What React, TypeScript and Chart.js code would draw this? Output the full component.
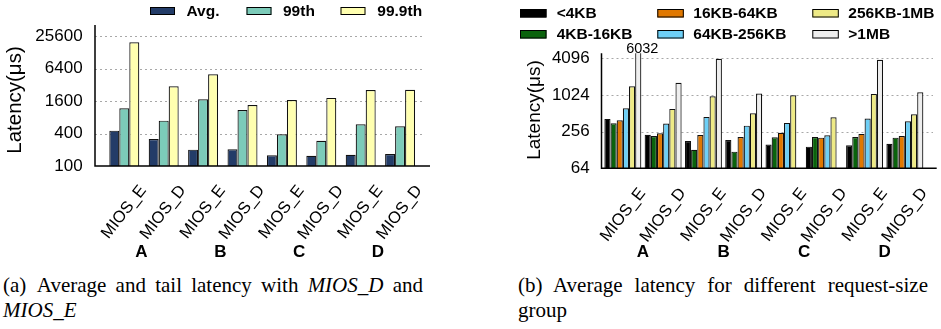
import React, { useEffect, useRef } from "react";
import { Chart, registerables } from "chart.js";
Chart.register(...registerables);

// ---------- data ----------
const categories = ["MIOS_E", "MIOS_D", "MIOS_E", "MIOS_D", "MIOS_E", "MIOS_D", "MIOS_E", "MIOS_D"];
const workloads = ["A", "B", "C", "D"];

const leftSeries = ["Avg.", "99th", "99.9th"];
const avgLatency = [453, 318, 201, 205, 158, 155, 162, 167];
const p99Latency = [1180, 695, 1730, 1097, 388, 295, 595, 546];
const p999Latency = [19800, 3020, 5050, 1360, 1680, 1840, 2580, 2600];
const leftTicks = [100, 400, 1600, 6400, 25600];

const sizeGroups = ["<4KB", "4KB-16KB", "16KB-64KB", "64KB-256KB", "256KB-1MB", ">1MB"];
const lt4KB = [414, 228, 180, 187, 157, 145, 153, 162];
const kb4to16 = [352, 217, 129, 120, 207, 209, 209, 204];
const kb16to64 = [394, 241, 226, 209, 246, 204, 235, 217];
const kb64to256 = [621, 347, 447, 321, 356, 223, 419, 380];
const kb256to1M = [1428, 605, 978, 514, 1016, 442, 1067, 495];
const gt1MB: (number | null)[] = [6032, 1620, 4015, 1080, null, null, 3870, 1138];
const rightTicks = [64, 256, 1024, 4096];

const SANS = "'Liberation Sans', Arial, sans-serif";

type Spec = {
  width: number;
  height: number;
  datasets: { label: string; data: (number | null)[]; color: string }[];
  yMin: number;
  yMax: number;
  yTicks: number[];
  area: { left: number; right: number; top: number; bottom: number };
  axisX: number;
  axisEnd: number;
  gridEnd: number;
  catPct: number;
  tickFont: number;
  tickPad: number;
  title: { x: number; y: number; size: number };
  legend: { boxX: number; boxY: number; boxW: number; boxH: number; textX: number; textY: number }[];
  legendFont: number;
  xLabel: { dx: number; dy: number; angle: number; size: number };
  groupY: number;
  groupDx: number;
  groupSize: number;
  annotate?: { dataset: number; index: number; dx: number; y: number; size: number };
};

function makeChart(canvas: HTMLCanvasElement, s: Spec) {
  const overlay = {
    id: "overlay",
    beforeDatasetsDraw(chart: any) {
      const ctx = chart.ctx;
      const y = chart.scales.y;
      ctx.save();
      ctx.strokeStyle = "#a8a8a8";
      ctx.lineWidth = 1;
      ctx.setLineDash([2, 3]);
      s.yTicks.forEach((v) => {
        if (v === s.yMin) return;
        const py = Math.round(y.getPixelForValue(v)) + 0.5;
        ctx.beginPath();
        ctx.moveTo(s.axisX, py);
        ctx.lineTo(s.gridEnd, py);
        ctx.stroke();
      });
      ctx.restore();
    },
    afterDatasetsDraw(chart: any) {
      const ctx = chart.ctx;
      const xs = chart.scales.x;
      const bottom = chart.chartArea.bottom;
      ctx.save();
      // axes
      ctx.strokeStyle = "#000";
      ctx.lineWidth = 1.5;
      ctx.setLineDash([]);
      ctx.beginPath();
      ctx.moveTo(s.axisX, s.area.top);
      ctx.lineTo(s.axisX, bottom);
      ctx.lineTo(s.axisEnd, bottom);
      ctx.stroke();
      ctx.fillStyle = "#000";
      // x labels
      ctx.font = `${s.xLabel.size}px ${SANS}`;
      categories.forEach((lab, i) => {
        const px = xs.getPixelForValue(i);
        ctx.save();
        ctx.translate(px + s.xLabel.dx, bottom + s.xLabel.dy);
        ctx.rotate((-s.xLabel.angle * Math.PI) / 180);
        ctx.textAlign = "right";
        ctx.textBaseline = "middle";
        ctx.fillText(lab, 0, 0);
        ctx.restore();
      });
      // group letters
      ctx.font = `bold ${s.groupSize}px ${SANS}`;
      ctx.textAlign = "center";
      ctx.textBaseline = "middle";
      workloads.forEach((w, g) => {
        const px = (xs.getPixelForValue(2 * g) + xs.getPixelForValue(2 * g + 1)) / 2 + s.groupDx;
        ctx.fillText(w, px, s.groupY);
      });
      // y title
      ctx.save();
      ctx.translate(s.title.x, s.title.y);
      ctx.rotate(-Math.PI / 2);
      ctx.font = `${s.title.size}px ${SANS}`;
      ctx.fillText("Latency(\u03bcs)", 0, 0);
      ctx.restore();
      // legend
      ctx.font = `bold ${s.legendFont}px ${SANS}`;
      ctx.textAlign = "left";
      s.datasets.forEach((d, i) => {
        const L = s.legend[i];
        ctx.fillStyle = d.color;
        ctx.fillRect(L.boxX, L.boxY, L.boxW, L.boxH);
        ctx.strokeStyle = "#000";
        ctx.lineWidth = 1;
        ctx.strokeRect(L.boxX + 0.5, L.boxY + 0.5, L.boxW - 1, L.boxH - 1);
        ctx.fillStyle = "#000";
        ctx.fillText(d.label, L.textX, L.textY);
      });
      // annotation for clipped bar
      if (s.annotate) {
        const a = s.annotate;
        const meta = chart.getDatasetMeta(a.dataset);
        const bar = meta.data[a.index];
        const val = s.datasets[a.dataset].data[a.index];
        ctx.font = `${a.size}px ${SANS}`;
        ctx.textAlign = "center";
        ctx.fillText(String(val), bar.x + a.dx, a.y);
      }
      ctx.restore();
    },
  };

  return new Chart(canvas, {
    type: "bar",
    data: {
      labels: categories,
      datasets: s.datasets.map((d) => ({
        label: d.label,
        data: d.data,
        backgroundColor: d.color,
        borderColor: "#111",
        borderWidth: 1.2,
        categoryPercentage: s.catPct,
        barPercentage: 1,
      })),
    },
    options: {
      responsive: false,
      animation: false,
      devicePixelRatio: 1,
      layout: { padding: { left: 0, top: s.area.top, right: s.width - s.area.right, bottom: 0 } },
      plugins: { legend: { display: false }, tooltip: { enabled: false } },
      scales: {
        x: {
          type: "category",
          offset: true,
          ticks: { display: false },
          grid: { display: false },
          border: { display: false },
          afterFit: (sc: any) => {
            sc.height = s.height - s.area.bottom;
          },
        },
        y: {
          type: "logarithmic",
          min: s.yMin,
          max: s.yMax,
          bounds: "data",
          afterBuildTicks: (sc: any) => {
            sc.ticks = s.yTicks.map((v) => ({ value: v }));
          },
          ticks: {
            callback: (v: any) => String(v),
            font: { family: SANS, size: s.tickFont },
            color: "#000",
            padding: s.tickPad,
          },
          grid: { display: false },
          border: { display: false },
          afterFit: (sc: any) => {
            sc.width = s.area.left;
          },
        },
      },
    },
    plugins: [overlay],
  } as any);
}

const leftColors = ["#233c68", "#7ccbb9", "#ffffb0"];
const rightColors = ["#000000", "#0a630c", "#e07800", "#6dcff6", "#eeea86", "#eeeeee"];

const leftSpec: Spec = {
  width: 470,
  height: 265,
  datasets: [avgLatency, p99Latency, p999Latency].map((d, i) => ({ label: leftSeries[i], data: d, color: leftColors[i] })),
  yMin: 100,
  yMax: 41500,
  yTicks: leftTicks,
  area: { left: 104.6, right: 419.8, top: 25, bottom: 166 },
  axisX: 95,
  axisEnd: 430,
  gridEnd: 425,
  catPct: 0.761,
  tickFont: 17,
  tickPad: 14,
  title: { x: 15.8, y: 100, size: 20.5 },
  legend: [
    { boxX: 150, boxY: 7, boxW: 25, boxH: 8, textX: 186.5, textY: 11.5 },
    { boxX: 246.5, boxY: 7, boxW: 25, boxH: 8, textX: 283, textY: 11.5 },
    { boxX: 340.5, boxY: 7, boxW: 25, boxH: 8, textX: 377.3, textY: 11.5 },
  ],
  legendFont: 15.5,
  xLabel: { dx: 19, dy: 21.5, angle: 52, size: 16.5 },
  groupY: 252,
  groupDx: -2.5,
  groupSize: 17,
};

const rightSpec: Spec = {
  width: 471,
  height: 265,
  datasets: [lt4KB, kb4to16, kb16to64, kb64to256, kb256to1M, gt1MB].map((d, i) => ({ label: sizeGroups[i], data: d, color: rightColors[i] })),
  yMin: 64,
  yMax: 4950,
  yTicks: rightTicks,
  area: { left: 132.7, right: 455, top: 53.3, bottom: 168.3 },
  axisX: 131.5,
  axisEnd: 466.7,
  gridEnd: 463,
  catPct: 0.918,
  tickFont: 17,
  tickPad: 5,
  title: { x: 65, y: 110, size: 19 },
  legend: [
    { boxX: 50, boxY: 9, boxW: 26.5, boxH: 8.5, textX: 86.7, textY: 13.3 },
    { boxX: 50, boxY: 30, boxW: 26.5, boxH: 8.5, textX: 86.7, textY: 34.3 },
    { boxX: 187.3, boxY: 9, boxW: 26.5, boxH: 8.5, textX: 223.3, textY: 13.3 },
    { boxX: 187.3, boxY: 30, boxW: 26.5, boxH: 8.5, textX: 223.3, textY: 34.3 },
    { boxX: 342.3, boxY: 9, boxW: 26.5, boxH: 8.5, textX: 378.3, textY: 13.3 },
    { boxX: 342.3, boxY: 30, boxW: 26.5, boxH: 8.5, textX: 378.3, textY: 34.3 },
  ],
  legendFont: 15.5,
  xLabel: { dx: 19.5, dy: 22, angle: 52, size: 16.5 },
  groupY: 252.5,
  groupDx: 0,
  groupSize: 17,
  annotate: { dataset: 5, index: 0, dx: 4, y: 48.7, size: 14.5 },
};

const captionStyle: React.CSSProperties = {
  position: "absolute",
  fontFamily: "'Liberation Serif', 'Times New Roman', serif",
  fontSize: 21,
  lineHeight: "26px",
  color: "#000",
  margin: 0,
};

export default function App() {
  const leftRef = useRef<HTMLCanvasElement>(null);
  const rightRef = useRef<HTMLCanvasElement>(null);
  useEffect(() => {
    const a = makeChart(leftRef.current!, leftSpec);
    const b = makeChart(rightRef.current!, rightSpec);
    return () => {
      a.destroy();
      b.destroy();
    };
  }, []);
  return (
    <div style={{ position: "fixed", left: 0, top: 0, width: 941, height: 329, background: "#fff", overflow: "hidden" }}>
      <canvas ref={leftRef} width={470} height={265} style={{ position: "absolute", left: 0, top: 0, width: 470, height: 265 }} />
      <canvas ref={rightRef} width={471} height={265} style={{ position: "absolute", left: 470, top: 0, width: 471, height: 265 }} />
      <div style={{ ...captionStyle, left: 3, top: 271.6, width: 420, textAlign: "justify", textAlignLast: "justify" }}>
        (a)&ensp;Average and tail latency with <i>MIOS_D</i> and
      </div>
      <div style={{ ...captionStyle, left: 3, top: 296.9 }}>
        <i>MIOS_E</i>
      </div>
      <div style={{ ...captionStyle, left: 518, top: 271.6, width: 410, textAlign: "justify", textAlignLast: "justify" }}>
        (b)&ensp;Average latency for different request-size
      </div>
      <div style={{ ...captionStyle, left: 518, top: 296.9 }}>group</div>
    </div>
  );
}
